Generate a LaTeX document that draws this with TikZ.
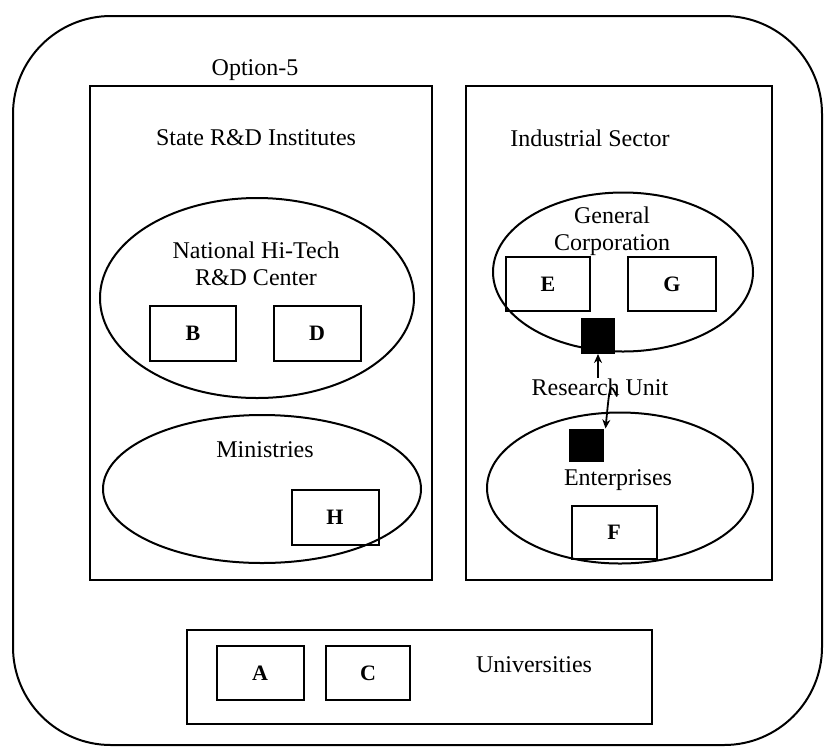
\documentclass[tikz,border=0pt]{standalone}
\usepackage{fontspec}
\setmainfont{Liberation Serif}
\usetikzlibrary{shapes.geometric,arrows.meta}
\begin{document}
\begin{tikzpicture}[x=1pt,y=-1pt,
  line width=2pt,
  lbl/.style={font=\fontsize{24}{27}\selectfont, inner sep=0pt, align=center},
  letterbox/.style={draw, rectangle, minimum width=#1, minimum height=55, inner sep=0pt, font=\fontsize{22}{24}\selectfont\bfseries},
  oval/.style={draw, ellipse, inner sep=0pt},
  unit/.style={fill=black, draw=black, minimum width=32, minimum height=34, inner sep=0pt},
  tip/.style={-{Stealth[length=9pt,width=8pt]}, line width=1.8pt}
]
\useasboundingbox (0,0) rectangle (826,753);

% outer frame
\draw[rounded corners=98pt] (13,16) rectangle (822,745);
\node[lbl] (opt) at (255,70) {Option-5};

% two sector panels
\draw (90,86) rectangle (432,580);
\draw (466,86) rectangle (772,580);
\node[lbl] (state) at (256,138) {State R\&D Institutes};
\node[lbl] (ind) at (590,138) {Industrial Sector};

% state side
\node[oval, minimum width=314, minimum height=200] (nhc) at (257,298) {};
\node[lbl] (nhct) at (256,264) {National Hi-Tech\\R\&D Center};
\node[letterbox=86] (B) at (193,333) {B};
\node[letterbox=87] (D) at (317,333) {D};

\node[oval, minimum width=318, minimum height=148] (min) at (262,489) {};
\node[lbl] (mint) at (265,450) {Ministries};
\node[letterbox=87] (H) at (335,517) {H};

% industrial side
\node[oval, minimum width=260, minimum height=159] (gc) at (623,272) {};
\node[lbl] (gct) at (612,231) {General\\Corporation};
\node[letterbox=84, minimum height=54] (E) at (548,284) {E};
\node[letterbox=88, minimum height=54] (G) at (672,284) {G};
\node[unit] (u1) at (598,336) {};

\node[lbl] (ru) at (600,387) {Research Unit};

\node[oval, minimum width=266, minimum height=151] (ent) at (620,488) {};
\node[unit, minimum width=33, minimum height=31] (u2) at (586,445) {};
\node[lbl] (entt) at (618,480) {Enterprises};
\node[letterbox=85, minimum height=53] (F) at (614,532) {F};

\draw[tip] (ru.north -| u1) -- (u1.south);
\draw[tip] ([xshift=17pt]ru.south) .. controls ([xshift=10pt,yshift=14pt]ru.south) .. ([xshift=2pt]u2.north east);

% universities strip
\draw (187,630) rectangle (652,724);
\node[letterbox=87, minimum height=54] (A) at (260,673) {A};
\node[letterbox=84, minimum height=54] (C) at (368,673) {C};
\node[lbl] (uni) at (534,665) {Universities};
\end{tikzpicture}
\end{document}
